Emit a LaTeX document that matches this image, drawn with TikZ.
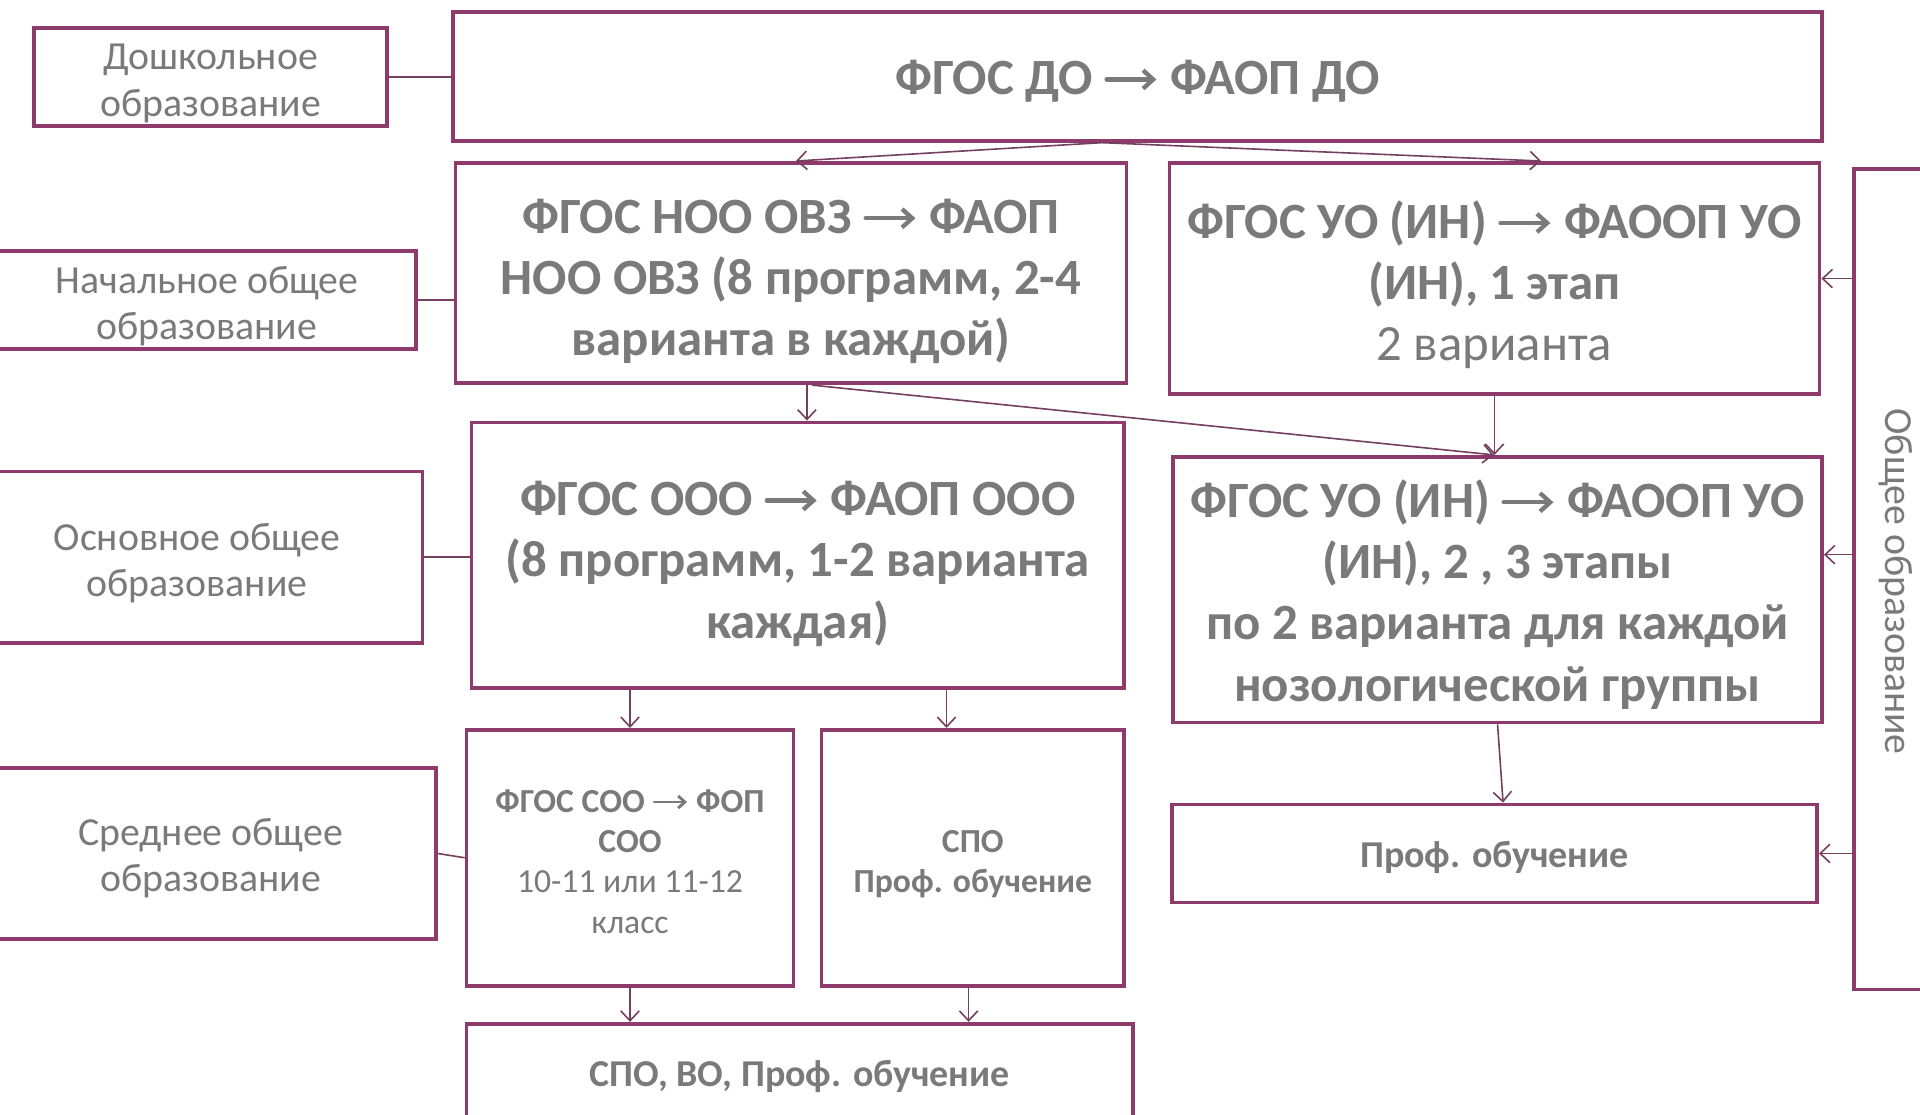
\documentclass[tikz,border=0pt]{standalone}
\usepackage{fontspec}
\setmainfont{Carlito}
\usetikzlibrary{arrows.meta}
\definecolor{frame}{HTML}{8E3A6B}
\definecolor{txt}{HTML}{7A7A7A}
\definecolor{conn}{HTML}{74405F}
\newcommand{\myarr}{\tikz[baseline=-0.3em]\draw[draw=txt, line width=0.085em, line cap=round, -{Straight Barb[length=0.2em,width=0.36em,line width=0.085em]}] (0,0) -- (0.98em,0);}
\begin{document}
\begin{tikzpicture}[x=1pt,y=-1pt,
  box/.style={draw=frame, line width=3pt, inner sep=0pt, fill=white},
  lbl/.style={inner sep=0pt, align=center, text=txt},
  big/.style={lbl, font=\fontsize{41.5}{50}\selectfont\bfseries},
  side/.style={lbl, font=\fontsize{32.5}{38}\selectfont},
  small/.style={lbl, font=\fontsize{27.5}{33}\selectfont\bfseries},
  mid/.style={lbl, font=\fontsize{31}{36}\selectfont\bfseries},
  link/.style={draw=conn, line width=1.3pt},
  arr/.style={link, -{Straight Barb[length=8pt,width=15pt,line width=1.3pt]}}]
\useasboundingbox (0,0) rectangle (1568,910);
\clip (0,0) rectangle (1568,910);
\fill[white] (0,0) rectangle (1568,910);
% boxes
\node[box, minimum width=288pt, minimum height=80pt] (dosh) at (172,63) {};
\node[box, minimum width=342pt, minimum height=80pt] (nach) at (169,245) {};
\node[box, minimum width=368pt, minimum height=140pt] (osn) at (161,455) {};
\node[box, minimum width=368pt, minimum height=140pt] (sred) at (172,697) {};
\node[box, minimum width=1118pt, minimum height=105pt] (do) at (929,62.5) {};
\node[box, minimum width=548pt, minimum height=180pt] (noo) at (646,223) {};
\node[box, minimum width=531pt, minimum height=189pt] (uo1) at (1220.5,227.5) {};
\node[box, minimum width=533pt, minimum height=217pt] (ooo) at (651.5,453.5) {};
\node[box, minimum width=530pt, minimum height=217pt] (uo2) at (1223,481.5) {};
\node[box, minimum width=267pt, minimum height=209pt] (soo) at (514.5,700.5) {};
\node[box, minimum width=247pt, minimum height=209pt] (spo) at (794.5,700.5) {};
\node[box, minimum width=527pt, minimum height=80pt] (prof) at (1220.5,697) {};
\node[box, minimum width=544pt, minimum height=82pt] (spovo) at (653,877) {};
\node[box, minimum width=68pt, minimum height=670pt] (ob) at (1548,473) {};
% texts
\node[side] (dosht) at ([yshift=-5pt]dosh.center) {Дошкольное\\образование};
\node[side] (nacht) at ([yshift=-5pt]nach.center) {Начальное общее\\образование};
\node[side] (osnt) at ([yshift=-5pt]osn.center) {Основное общее\\образование};
\node[side] (sredt) at ([yshift=-4pt]sred.center) {Среднее общее\\образование};
\node[big] (dot) at ([yshift=-4pt]do.center) {ФГОС ДО \myarr{} ФАОП ДО};
\node[big] (noot) at ([yshift=-7pt]noo.center) {ФГОС НОО ОВЗ \myarr{} ФАОП\\НОО ОВЗ (8 программ, 2-4\\варианта в каждой)};
\node[big] (uo1t) at ([yshift=-5pt]uo1.center) {ФГОС УО (ИН) \myarr{} ФАООП УО\\(ИН), 1 этап\\{\mdseries 2 варианта}};
\node[big] (ooot) at ([yshift=-7pt]ooo.center) {ФГОС ООО \myarr{} ФАОП ООО\\(8 программ, 1-2 варианта\\каждая)};
\node[big] (uo2t) at ([yshift=-4pt]uo2.center) {ФГОС УО (ИН) \myarr{} ФАООП УО\\(ИН), 2 , 3 этапы\\по 2 варианта для каждой\\нозологической группы};
\node[small] (soot) at ([yshift=-3pt]soo.center) {ФГОС СОО \myarr{} ФОП\\СОО\\{\mdseries 10-11 или 11-12}\\{\mdseries класс}};
\node[small] (spot) at ([yshift=-5pt]spo.center) {СПО\\Проф. обучение};
\node[mid] (proft) at ([yshift=-3pt]prof.center) {Проф. обучение};
\node[mid] (spovot) at ([yshift=-2pt]spovo.center) {СПО, ВО, Проф. обучение};
\node[side, rotate=-90] (obt) at ([yshift=-2pt]ob.center) {Общее образование};
% connectors
\draw[link] (dosh.east) -- (dosh.east -| do.west);
\draw[link] (nach.east) -- (nach.east -| noo.west);
\draw[link] (osn.east) -- (osn.east -| ooo.west);
\draw[link] (sred.east) -- (soo.west);
\draw[arr] ([xshift=-29pt]do.south) -- ([xshift=4pt]noo.north);
\draw[arr] ([xshift=-29pt]do.south) -- ([xshift=38pt]uo1.north);
\draw[arr] ([xshift=13pt]noo.south) -- ([xshift=13pt]noo.south |- ooo.north);
\draw[arr] ([xshift=17pt]noo.south) -- ([xshift=-3pt]uo2.north);
\draw[arr] (uo1.south) -- (uo1.south |- uo2.north);
\draw[arr] (ooo.south -| soo.north) -- (soo.north);
\draw[arr] ([xshift=-21.5pt]spo.north |- ooo.south) -- ([xshift=-21.5pt]spo.north);
\draw[arr] (soo.south) -- (soo.south |- spovo.north);
\draw[arr] ([xshift=-3.5pt]spo.south) -- ([xshift=-3.5pt]spo.south |- spovo.north);
\draw[arr] (uo2.south) -- ([xshift=7pt]prof.north);
\draw[arr] (uo1.east -| ob.west) -- (uo1.east);
\draw[arr] ([yshift=28.5pt]uo2.east -| ob.west) -- ([yshift=28.5pt]uo2.east);
\draw[arr] (prof.east -| ob.west) -- (prof.east);
\end{tikzpicture}
\end{document}
